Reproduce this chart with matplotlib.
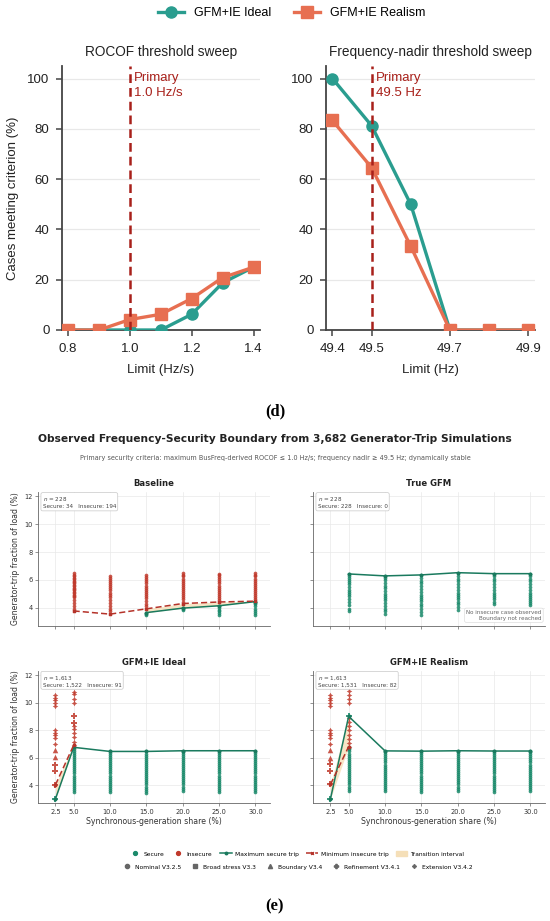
import numpy as np
import matplotlib.pyplot as plt
from matplotlib.lines import Line2D
from matplotlib.patches import Patch

W, H = 550, 921

# ---------------- (d) threshold sweeps ----------------
rocof_limits = [0.8, 0.9, 1.0, 1.1, 1.2, 1.3, 1.4]
rocof_ideal = [0.0, 0.0, 0.0, 0.0, 6.25, 18.75, 25.0]
rocof_realism = [0.0, 0.0, 4.17, 6.25, 12.5, 20.83, 25.0]
nadir_limits = [49.4, 49.5, 49.6, 49.7, 49.8, 49.9]
nadir_ideal = [100.0, 81.25, 50.0, 0.0, 0.0, 0.0]
nadir_realism = [83.33, 64.58, 33.33, 0.0, 0.0, 0.0]
rocof_ticks = [0.8, 1.0, 1.2, 1.4]
nadir_ticks = [49.4, 49.5, 49.7, 49.9]
pct_ticks = [0, 20, 40, 60, 80, 100]
rocof_primary = 1.0
nadir_primary = 49.5

# ---------------- (e) boundary scatter ----------------
share_ticks = [2.5, 5.0, 10.0, 15.0, 20.0, 25.0, 30.0]
trip_ticks = [4, 6, 8, 10, 12]
panel_titles = ["Baseline", "True GFM", "GFM+IE Ideal", "GFM+IE Realism"]
panel_n = ["228", "228", "1,613", "1,613"]
panel_secure = ["34", "228", "1,522", "1,531"]
panel_insecure = ["194", "0", "91", "82"]

# Baseline
base_secure = {
    15.0: [3.5, 3.58, 3.66],
    20.0: [3.82, 3.9, 3.98],
    25.0: [3.5, 3.62, 3.75, 3.88, 4.0, 4.15],
    30.0: [3.5, 3.65, 3.8, 3.95, 4.1, 4.25, 4.35, 4.45],
}
base_insecure = {
    5.0: [3.78, 3.95, 4.15, 4.35, 4.55, 4.75, 4.85, 4.95, 5.05, 5.15, 5.25, 5.35, 5.45,
          5.55, 5.65, 5.75, 5.85, 5.95, 6.05, 6.15, 6.25, 6.35, 6.48],
    10.0: [3.55, 3.75, 3.95, 4.15, 4.35, 4.55, 4.75, 4.95, 5.1, 5.25, 5.4, 5.55, 5.7,
           5.85, 6.0, 6.15, 6.29],
    15.0: [3.93, 4.1, 4.3, 4.5, 4.7, 4.85, 5.0, 5.15, 5.3, 5.45, 5.6, 5.75, 5.9, 6.05,
           6.2, 6.38],
    20.0: [4.31, 4.45, 4.6, 4.75, 4.9, 5.05, 5.2, 5.35, 5.5, 5.65, 5.8, 5.95, 6.1, 6.25,
           6.38, 6.5],
    25.0: [4.42, 4.55, 4.7, 4.85, 5.0, 5.15, 5.3, 5.45, 5.6, 5.75, 5.9, 6.05, 6.2, 6.32,
           6.45],
    30.0: [4.48, 4.6, 4.75, 4.9, 5.05, 5.2, 5.35, 5.5, 5.65, 5.8, 5.95, 6.1, 6.25, 6.38,
           6.5],
}
base_max_x = [15.0, 20.0, 25.0, 30.0]
base_max_y = [3.66, 3.98, 4.15, 4.45]
base_min_x = [5.0, 10.0, 15.0, 20.0, 25.0, 30.0]
base_min_y = [3.78, 3.55, 3.93, 4.31, 4.42, 4.48]

# True GFM
tgfm_secure = {
    5.0: [3.8, 3.95, 4.2, 4.45, 4.65, 4.85, 5.0, 5.15, 5.3, 5.5, 5.7, 5.85, 6.0, 6.15,
          6.3, 6.43],
    10.0: [3.57, 3.75, 3.95, 4.15, 4.35, 4.55, 4.7, 4.85, 5.0, 5.2, 5.4, 5.6, 5.8, 6.0,
           6.15, 6.29],
    15.0: [3.5, 3.7, 3.9, 4.1, 4.3, 4.5, 4.65, 4.8, 4.95, 5.15, 5.35, 5.55, 5.75, 5.95,
           6.15, 6.36],
    20.0: [3.86, 4.05, 4.25, 4.45, 4.6, 4.75, 4.9, 5.1, 5.3, 5.5, 5.7, 5.9, 6.1, 6.3, 6.52],
    25.0: [4.3, 4.45, 4.6, 4.75, 4.9, 5.1, 5.3, 5.5, 5.7, 5.9, 6.1, 6.3, 6.45],
    30.0: [4.2, 4.35, 4.5, 4.65, 4.8, 4.95, 5.1, 5.3, 5.5, 5.7, 5.9, 6.1, 6.3, 6.45],
}
tgfm_max_x = [5.0, 10.0, 15.0, 20.0, 25.0, 30.0]
tgfm_max_y = [6.43, 6.29, 6.36, 6.52, 6.45, 6.45]

# GFM+IE Ideal
ideal_secure = {
    5.0: [3.5, 3.65, 3.8, 3.95, 4.1, 4.25, 4.4, 4.55, 4.7, 4.85, 5.0, 5.15, 5.3, 5.45,
          5.6, 5.75, 5.9, 6.05, 6.2, 6.35, 6.5, 6.62, 6.75],
    10.0: [3.5, 3.65, 3.8, 3.95, 4.1, 4.25, 4.4, 4.55, 4.7, 4.85, 5.0, 5.15, 5.3, 5.45,
           5.6, 5.75, 5.9, 6.05, 6.2, 6.35, 6.45],
    15.0: [3.45, 3.6, 3.75, 3.9, 4.05, 4.2, 4.35, 4.5, 4.65, 4.8, 4.95, 5.1, 5.25, 5.4,
           5.55, 5.7, 5.85, 6.0, 6.15, 6.3, 6.45],
    20.0: [3.6, 3.75, 3.9, 4.05, 4.2, 4.35, 4.5, 4.65, 4.8, 4.95, 5.1, 5.25, 5.4, 5.55,
           5.7, 5.85, 6.0, 6.15, 6.3, 6.4, 6.5],
    25.0: [3.5, 3.65, 3.8, 3.95, 4.1, 4.25, 4.4, 4.55, 4.7, 4.85, 5.0, 5.15, 5.3, 5.45,
           5.6, 5.75, 5.9, 6.05, 6.2, 6.35, 6.5],
    30.0: [3.5, 3.65, 3.8, 3.95, 4.1, 4.25, 4.4, 4.55, 4.7, 4.85, 5.0, 5.15, 5.3, 5.45,
           5.6, 5.75, 5.9, 6.05, 6.2, 6.35, 6.5],
}
ideal_secure_ref = {2.5: [3.0]}
ideal_ins_ext = {
    2.5: [10.53, 10.36, 10.2, 9.96, 9.77, 7.99, 7.82, 7.63, 7.44, 6.99],
    5.0: [10.79, 10.6, 10.29, 10.0, 8.3, 8.06, 7.82, 7.47, 7.11, 6.9],
}
ideal_ins_bnd = {2.5: [6.52, 6.02]}
ideal_ins_ref = {2.5: [5.5, 5.02, 4.02], 5.0: [9.0, 8.53]}
ideal_max_x = [2.5, 5.0, 10.0, 15.0, 20.0, 25.0, 30.0]
ideal_max_y = [3.0, 6.75, 6.45, 6.45, 6.5, 6.5, 6.5]
ideal_min_x = [2.5, 5.0]
ideal_min_y = [4.02, 6.9]

# GFM+IE Realism
real_secure = {
    5.0: [3.6, 3.75, 3.9, 4.05, 4.2, 4.35, 4.5, 4.65, 4.8, 4.95, 5.1, 5.25, 5.4, 5.55,
          5.7, 5.85, 6.0, 6.15, 6.3, 6.45, 6.6, 6.7, 6.8],
    10.0: [3.55, 3.7, 3.85, 4.0, 4.15, 4.3, 4.45, 4.6, 4.75, 4.9, 5.05, 5.2, 5.35, 5.5,
           5.65, 5.8, 5.95, 6.1, 6.25, 6.38, 6.49],
    15.0: [3.5, 3.65, 3.8, 3.95, 4.1, 4.25, 4.4, 4.55, 4.7, 4.85, 5.0, 5.15, 5.3, 5.45,
           5.6, 5.75, 5.9, 6.05, 6.2, 6.35, 6.47],
    20.0: [3.6, 3.75, 3.9, 4.05, 4.2, 4.35, 4.5, 4.65, 4.8, 4.95, 5.1, 5.25, 5.4, 5.55,
           5.7, 5.85, 6.0, 6.15, 6.3, 6.4, 6.5],
    25.0: [3.5, 3.65, 3.8, 3.95, 4.1, 4.25, 4.4, 4.55, 4.7, 4.85, 5.0, 5.15, 5.3, 5.45,
           5.6, 5.75, 5.9, 6.05, 6.2, 6.35, 6.48],
    30.0: [3.55, 3.7, 3.85, 4.0, 4.15, 4.3, 4.45, 4.6, 4.75, 4.9, 5.05, 5.2, 5.35, 5.5,
           5.65, 5.8, 5.95, 6.1, 6.25, 6.38, 6.48],
}
real_secure_ref = {2.5: [3.0], 5.0: [9.0]}
real_ins_ext = {
    2.5: [10.53, 10.36, 10.18, 9.94, 9.75, 8.0, 7.8, 7.65, 7.45, 7.0],
    5.0: [10.85, 10.57, 10.26, 10.0, 8.87, 8.58, 8.27, 7.99, 7.68, 7.35, 7.04, 6.8],
}
real_ins_bnd = {2.5: [6.56, 6.0]}
real_ins_ref = {2.5: [5.55, 5.03, 4.05]}
real_max_x = [2.5, 5.0, 10.0, 15.0, 20.0, 25.0, 30.0]
real_max_y = [3.0, 9.0, 6.49, 6.47, 6.5, 6.48, 6.48]
real_min_x = [2.5, 5.0]
real_min_y = [4.05, 6.8]

campaign_names = ["Nominal V3.2.5", "Broad stress V3.3", "Boundary V3.4",
                  "Refinement V3.4.1", "Extension V3.4.2"]
campaign_markers = ["o", "s", "^", "P", (4, 1, 0)]

# colours
TEAL = "#2a9d8f"
ORANGE = "#e76f51"
PRIMARY = "#a8201a"
SEC = "#1b8a6b"
INS = "#c0392b"
SEC_LINE = "#1a7a5e"
INS_LINE = "#b5332a"
TRANS = "#f5dfb8"


def box(x0, y0, x1, y1):
    # pixel box -> figure fraction
    return [x0 / W, 1 - y1 / H, (x1 - x0) / W, (y1 - y0) / H]


fig = plt.figure(figsize=(W / 100, H / 100), dpi=100)

# ================= (d) =================
sans = ["Liberation Sans", "DejaVu Sans"]
ax_r = fig.add_axes(box(62, 66, 260, 330))
ax_n = fig.add_axes(box(326, 66, 535, 330))

for ax, xs, yi, yr, ticks, prim, lab, title in [
    (ax_r, rocof_limits, rocof_ideal, rocof_realism, rocof_ticks, rocof_primary,
     "Primary\n1.0 Hz/s", "ROCOF threshold sweep"),
    (ax_n, nadir_limits, nadir_ideal, nadir_realism, nadir_ticks, nadir_primary,
     "Primary\n49.5 Hz", "Frequency-nadir threshold sweep"),
]:
    ax.plot(xs, yi, color=TEAL, lw=2.4, marker="o", ms=8, zorder=3, clip_on=True)
    ax.plot(xs, yr, color=ORANGE, lw=2.4, marker="s", ms=8, zorder=4, clip_on=True)
    ax.axvline(prim, color=PRIMARY, lw=1.8, ls=(0, (3.5, 2)), zorder=5)
    span = xs[-1] - xs[0]
    ax.text(prim + span * 0.022, 102.5, lab, color=PRIMARY, fontsize=9.5,
            family=sans, va="top", ha="left", linespacing=1.3)
    ax.set_ylim(0, 105)
    ax.set_xlim(xs[0] - span * 0.033, xs[-1] + span * 0.035)
    ax.set_xticks(ticks)
    ax.set_xticklabels([f"{t:.1f}" for t in ticks], family=sans)
    ax.set_yticks(pct_ticks)
    ax.set_yticklabels([str(t) for t in pct_ticks], family=sans)
    ax.grid(axis="y", color="#e8e8e8", lw=0.9)
    ax.set_axisbelow(True)
    for s in ["top", "right"]:
        ax.spines[s].set_visible(False)
    for s in ["left", "bottom"]:
        ax.spines[s].set_color("#444444")
        ax.spines[s].set_linewidth(1.3)
    ax.tick_params(labelsize=9.5, length=4, width=1.1, color="#444444",
                   labelcolor="#222222", pad=5)
    ax.set_title(title, fontsize=9.8, family=sans, color="#222222", pad=7)

ax_r.set_xlabel("Limit (Hz/s)", fontsize=9.5, family=sans, color="#222222", labelpad=7)
ax_n.set_xlabel("Limit (Hz)", fontsize=9.5, family=sans, color="#222222", labelpad=7)
ax_r.set_ylabel("Cases meeting criterion (%)", fontsize=9.5, family=sans,
                color="#222222", labelpad=6)

top_handles = [
    Line2D([], [], color=TEAL, lw=2.4, marker="o", ms=8, label="GFM+IE Ideal"),
    Line2D([], [], color=ORANGE, lw=2.4, marker="s", ms=8, label="GFM+IE Realism"),
]
fig.legend(handles=top_handles, loc="center", bbox_to_anchor=(292 / W, 1 - 13 / H),
           ncol=2, frameon=False, prop={"family": sans, "size": 9},
           handlelength=2.1, columnspacing=1.8)

fig.text(275 / W, 1 - 411 / H, "(d)", ha="center", va="center", fontsize=12,
         family=["Liberation Serif", "DejaVu Serif"], fontweight="bold")

# ================= (e) =================
fig.text(275 / W, 1 - 439 / H,
         "Observed Frequency-Security Boundary from 3,682 Generator-Trip Simulations",
         ha="center", va="center", fontsize=7.7, fontweight="bold", color="#222222")
fig.text(275 / W, 1 - 458 / H,
         "Primary security criteria: maximum BusFreq-derived ROCOF \u2264 1.0 Hz/s; "
         "frequency nadir \u2265 49.5 Hz; dynamically stable",
         ha="center", va="center", fontsize=4.7, color="#555555")

axes_e = [
    fig.add_axes(box(38, 492, 270, 626)),
    fig.add_axes(box(313, 492, 545, 626)),
    fig.add_axes(box(38, 671, 270, 803)),
    fig.add_axes(box(313, 671, 545, 803)),
]

panels = [
    dict(sec={"o": base_secure}, ins={"o": base_insecure},
         max_x=base_max_x, max_y=base_max_y, min_x=base_min_x, min_y=base_min_y),
    dict(sec={"o": tgfm_secure}, ins={},
         max_x=tgfm_max_x, max_y=tgfm_max_y, min_x=[], min_y=[]),
    dict(sec={"o": ideal_secure, "P": ideal_secure_ref},
         ins={(4, 1, 0): ideal_ins_ext, "^": ideal_ins_bnd, "P": ideal_ins_ref},
         max_x=ideal_max_x, max_y=ideal_max_y, min_x=ideal_min_x, min_y=ideal_min_y),
    dict(sec={"o": real_secure, "P": real_secure_ref},
         ins={(4, 1, 0): real_ins_ext, "^": real_ins_bnd, "P": real_ins_ref},
         max_x=real_max_x, max_y=real_max_y, min_x=real_min_x, min_y=real_min_y),
]

for i, (ax, p) in enumerate(zip(axes_e, panels)):
    # transition interval between max secure and min insecure
    mx = dict(zip(p["max_x"], p["max_y"]))
    mn = dict(zip(p["min_x"], p["min_y"]))
    common = [x for x in p["max_x"] if x in mn]
    if common:
        lo = [min(mx[x], mn[x]) for x in common]
        hi = [max(mx[x], mn[x]) for x in common]
        ax.fill_between(common, lo, hi, color=TRANS, alpha=0.8, lw=0, zorder=1)
    for mk, cols in p["sec"].items():
        for x, ys in cols.items():
            big = mk != "o"
            ax.scatter([x] * len(ys), ys, s=18 if big else 7, marker=mk, color=SEC,
                       alpha=0.85, lw=0, zorder=2)
    for mk, cols in p["ins"].items():
        for x, ys in cols.items():
            big = mk != "o"
            ax.scatter([x] * len(ys), ys, s=16 if big else 7, marker=mk, color=INS,
                       alpha=0.85, lw=0, zorder=2)
    ax.plot(p["max_x"], p["max_y"], color=SEC_LINE, lw=1.1, marker="o", ms=1.8,
            zorder=4)
    if p["min_x"]:
        ax.plot(p["min_x"], p["min_y"], color=INS_LINE, lw=1.1, ls=(0, (4, 2)),
                marker="x", ms=2, zorder=4)

    ax.set_xlim(0.1, 32)
    ax.set_ylim(2.7, 12.3)
    ax.set_xticks(share_ticks)
    ax.set_yticks(trip_ticks)
    ax.grid(True, color="#e9e9e9", lw=0.5)
    ax.set_axisbelow(True)
    for s in ["top", "right"]:
        ax.spines[s].set_visible(False)
    for s in ["left", "bottom"]:
        ax.spines[s].set_color("#666666")
        ax.spines[s].set_linewidth(0.6)
    ax.tick_params(labelsize=4.8, length=2, width=0.5, color="#666666",
                   labelcolor="#333333", pad=2)
    ax.set_title(panel_titles[i], fontsize=6.1, fontweight="bold", color="#222222", pad=4)
    if i < 2:
        ax.tick_params(labelbottom=False)
    else:
        ax.set_xticklabels([f"{t:.1f}" for t in share_ticks])
        ax.set_xlabel("Synchronous-generation share (%)", fontsize=5.6, color="#333333",
                      labelpad=2)
    if i % 2 == 1:
        ax.tick_params(labelleft=False)
    else:
        ax.set_ylabel("Generator-trip fraction of load (%)", fontsize=5.6,
                      color="#333333", labelpad=3)
    ax.text(0.02, 0.975,
            f"$n$ = {panel_n[i]}\nSecure: {panel_secure[i]}   Insecure: {panel_insecure[i]}",
            transform=ax.transAxes, ha="left", va="top", fontsize=4.1, color="#444444",
            bbox=dict(boxstyle="round,pad=0.3", fc="white", ec="#c8c8c8", lw=0.5),
            zorder=6)

axes_e[1].text(0.985, 0.04, "No insecure case observed\nBoundary not reached",
               transform=axes_e[1].transAxes, ha="right", va="bottom", fontsize=4.1,
               color="#666666", multialignment="right",
               bbox=dict(boxstyle="round,pad=0.3", fc="white", ec="#dddddd", lw=0.5),
               zorder=6)

status_handles = [
    Line2D([], [], ls="", marker="o", ms=2.8, color=SEC, label="Secure"),
    Line2D([], [], ls="", marker="o", ms=2.8, color=INS, label="Insecure"),
    Line2D([], [], color=SEC_LINE, lw=1.1, marker="o", ms=1.8, label="Maximum secure trip"),
    Line2D([], [], color=INS_LINE, lw=1.1, ls=(0, (4, 2)), marker="x", ms=2,
           label="Minimum insecure trip"),
    Patch(color=TRANS, label="Transition interval"),
]
camp_handles = [Line2D([], [], ls="", marker=m, ms=3, color="#666666", label=n)
                for m, n in zip(campaign_markers, campaign_names)]
fig.legend(handles=status_handles, loc="center", bbox_to_anchor=(297 / W, 1 - 854 / H),
           ncol=5, frameon=False, fontsize=4.3, handlelength=1.9, columnspacing=1.3,
           handletextpad=0.5, borderaxespad=0)
fig.legend(handles=camp_handles, loc="center", bbox_to_anchor=(297 / W, 1 - 867 / H),
           ncol=5, frameon=False, fontsize=4.3, handlelength=1.9, columnspacing=1.4,
           handletextpad=0.4, borderaxespad=0)

fig.text(275 / W, 1 - 906 / H, "(e)", ha="center", va="center", fontsize=12,
         family=["Liberation Serif", "DejaVu Serif"], fontweight="bold")

fig.savefig("out.png", dpi=100)
